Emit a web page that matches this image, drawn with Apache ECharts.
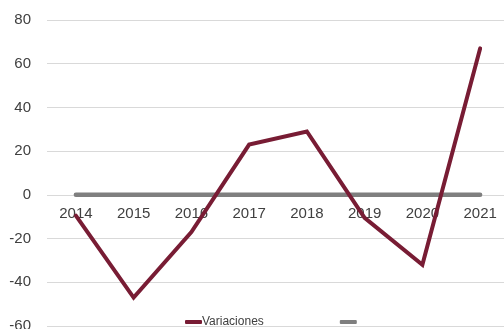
<!DOCTYPE html>
<html>
<head>
<meta charset="utf-8">
<script src="https://cdn.jsdelivr.net/npm/echarts@6/dist/echarts.min.js"></script>
<style>
  html, body { margin: 0; padding: 0; background: #fff; }
  #chart { width: 504px; height: 329px; }
</style>
</head>
<body>
<div id="chart"></div>
<script>
// Yearly variations with a zero reference line
const years = ['2014', '2015', '2016', '2017', '2018', '2019', '2020', '2021'];
const variaciones = [-9.5, -47, -17, 23, 29, -10.5, -32, 67];
const referencia = [0, 0, 0, 0, 0, 0, 0, 0];
const yTicks = { min: -60, max: 80, step: 20 };

const textColor = '#404040';
const font = 'Liberation Sans';

// Plot area
const gridTop = 20;
const gridBottom = 3;
const chartHeight = 329;
const plotHeight = chartHeight - gridTop - gridBottom;
// Distance from the bottom edge of the plot up to the zero value, so the year labels sit under the zero line
const zeroLift = plotHeight * (0 - yTicks.min) / (yTicks.max - yTicks.min);

const chart = echarts.init(document.getElementById('chart'), null, { renderer: 'canvas' });
chart.setOption({
  animation: false,
  grid: { left: 47, top: gridTop, bottom: gridBottom, width: 462, containLabel: false, outerBoundsMode: 'none' },
  legend: {
    left: 185,
    bottom: 1,
    padding: 0,
    itemWidth: 17,
    itemHeight: 4,
    itemGap: 76,
    textStyle: { color: textColor, fontFamily: font, fontSize: 12, padding: [0, 0, 0, -5] },
    data: [
      { name: 'Variaciones', icon: 'roundRect' },
      { name: ' ', icon: 'roundRect' }
    ]
  },
  xAxis: {
    type: 'category',
    data: years,
    boundaryGap: true,
    position: 'bottom',
    offset: -zeroLift,
    axisLine: { show: false, onZero: false },
    axisTick: { show: false },
    axisLabel: {
      show: true, color: textColor, fontFamily: font, fontSize: 15, margin: 12,
      interval: 0, hideOverlap: false
    },
    z: 0
  },
  yAxis: {
    type: 'value',
    min: yTicks.min,
    max: yTicks.max,
    interval: yTicks.step,
    axisLine: { show: false },
    axisTick: { show: false },
    axisLabel: { color: textColor, fontFamily: font, fontSize: 15, margin: 16 },
    splitLine: { lineStyle: { color: '#d9d9d9', width: 1 } }
  },
  series: [
    {
      name: ' ',
      type: 'line',
      data: referencia,
      showSymbol: false,
      lineStyle: { color: '#7f7f7f', width: 4.5, cap: 'round' },
      itemStyle: { color: '#7f7f7f' },
      z: 2
    },
    {
      name: 'Variaciones',
      type: 'line',
      data: variaciones,
      showSymbol: false,
      lineStyle: { color: '#781c34', width: 4, cap: 'round', join: 'miter' },
      itemStyle: { color: '#781c34' },
      z: 3
    }
  ]
});
</script>
</body>
</html>
